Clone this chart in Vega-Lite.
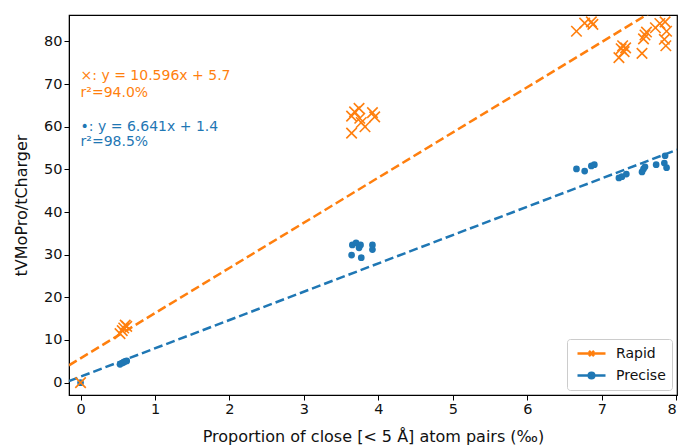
{
  "$schema": "https://vega.github.io/schema/vega-lite/v6.json",
  "autosize": {"type": "none"},
  "width": 608,
  "height": 380,
  "padding": {"left": 69, "top": 15, "right": 3, "bottom": 51},
  "config": {
    "font": "DejaVu Sans",
    "view": {"stroke": "#000", "strokeWidth": 1.2},
    "axis": {
      "grid": false,
      "domainColor": "#000",
      "tickColor": "#000",
      "tickSize": 5,
      "labelFontSize": 14.5,
      "labelColor": "#111",
      "titleFontSize": 16,
      "titleFontWeight": "normal",
      "titleColor": "#111"
    }
  },
  "datasets": {
    "pts": [
      {"series": "Rapid", "x": 0, "y": 0},
      {"series": "Rapid", "x": 0.53, "y": 11.5},
      {"series": "Rapid", "x": 0.56, "y": 12.2},
      {"series": "Rapid", "x": 0.58, "y": 12.8},
      {"series": "Rapid", "x": 0.6, "y": 13.5},
      {"series": "Rapid", "x": 0.62, "y": 13.2},
      {"series": "Rapid", "x": 3.64, "y": 58.5},
      {"series": "Rapid", "x": 3.64, "y": 62.5},
      {"series": "Rapid", "x": 3.68, "y": 63.5},
      {"series": "Rapid", "x": 3.74, "y": 64.3},
      {"series": "Rapid", "x": 3.77, "y": 61.0},
      {"series": "Rapid", "x": 3.75, "y": 62.0},
      {"series": "Rapid", "x": 3.82, "y": 60.0},
      {"series": "Rapid", "x": 3.92, "y": 63.3},
      {"series": "Rapid", "x": 3.95, "y": 62.3},
      {"series": "Rapid", "x": 6.66, "y": 82.4},
      {"series": "Rapid", "x": 6.77, "y": 84.3},
      {"series": "Rapid", "x": 6.86, "y": 84.6},
      {"series": "Rapid", "x": 6.88, "y": 84.0},
      {"series": "Rapid", "x": 7.23, "y": 76.2},
      {"series": "Rapid", "x": 7.26, "y": 78.3},
      {"series": "Rapid", "x": 7.3, "y": 77.6},
      {"series": "Rapid", "x": 7.28, "y": 79.0},
      {"series": "Rapid", "x": 7.32, "y": 78.5},
      {"series": "Rapid", "x": 7.54, "y": 77.2},
      {"series": "Rapid", "x": 7.56, "y": 80.6},
      {"series": "Rapid", "x": 7.58, "y": 81.5},
      {"series": "Rapid", "x": 7.6, "y": 82.2},
      {"series": "Rapid", "x": 7.72, "y": 83.2},
      {"series": "Rapid", "x": 7.78, "y": 84.2},
      {"series": "Rapid", "x": 7.85, "y": 84.6},
      {"series": "Rapid", "x": 7.87, "y": 82.4},
      {"series": "Rapid", "x": 7.84, "y": 80.5},
      {"series": "Rapid", "x": 7.86, "y": 79.0},
      {"series": "Precise", "x": 0, "y": 0},
      {"series": "Precise", "x": 0.53, "y": 4.3},
      {"series": "Precise", "x": 0.56, "y": 4.6},
      {"series": "Precise", "x": 0.58, "y": 4.8},
      {"series": "Precise", "x": 0.6, "y": 5.0},
      {"series": "Precise", "x": 0.62, "y": 5.1},
      {"series": "Precise", "x": 3.65, "y": 32.3},
      {"series": "Precise", "x": 3.7, "y": 32.8},
      {"series": "Precise", "x": 3.76, "y": 32.3},
      {"series": "Precise", "x": 3.74, "y": 31.6},
      {"series": "Precise", "x": 3.92, "y": 32.3},
      {"series": "Precise", "x": 3.92, "y": 31.2},
      {"series": "Precise", "x": 3.64, "y": 29.9},
      {"series": "Precise", "x": 3.77, "y": 29.3},
      {"series": "Precise", "x": 6.66, "y": 50.1},
      {"series": "Precise", "x": 6.77, "y": 49.6},
      {"series": "Precise", "x": 6.86, "y": 50.8},
      {"series": "Precise", "x": 6.9, "y": 51.1},
      {"series": "Precise", "x": 7.23, "y": 48.0},
      {"series": "Precise", "x": 7.27, "y": 48.3},
      {"series": "Precise", "x": 7.33, "y": 48.9},
      {"series": "Precise", "x": 7.54, "y": 49.4},
      {"series": "Precise", "x": 7.56, "y": 50.1},
      {"series": "Precise", "x": 7.58, "y": 50.6},
      {"series": "Precise", "x": 7.73, "y": 51.1},
      {"series": "Precise", "x": 7.84, "y": 51.5},
      {"series": "Precise", "x": 7.87, "y": 50.4},
      {"series": "Precise", "x": 7.85, "y": 53.2}
    ],
    "fits": [
      {"series": "Rapid", "x": -0.155, "y": 4.06},
      {"series": "Rapid", "x": 8.01, "y": 90.57},
      {"series": "Precise", "x": -0.155, "y": 0.37},
      {"series": "Precise", "x": 8.01, "y": 54.6}
    ],
    "notes": [
      {"series": "Rapid", "x": 0.0, "y": 72.0, "text": "×: y = 10.596x + 5.7"},
      {"series": "Rapid", "x": 0.0, "y": 68.0, "text": "r²=94.0%"},
      {"series": "Precise", "x": 0.0, "y": 60.0, "text": "•: y = 6.641x + 1.4"},
      {"series": "Precise", "x": 0.0, "y": 56.4, "text": "r²=98.5%"}
    ]
  },
  "encoding": {
    "x": {
      "field": "x", "type": "quantitative",
      "scale": {"domain": [-0.155, 8.01], "nice": false, "zero": false},
      "axis": {"values": [0, 1, 2, 3, 4, 5, 6, 7, 8], "title": "Proportion of close [< 5 Å] atom pairs (‰)", "titlePadding": 13}
    },
    "y": {
      "field": "y", "type": "quantitative",
      "scale": {"domain": [-2.9, 86.2], "nice": false, "zero": false},
      "axis": {"values": [0, 10, 20, 30, 40, 50, 60, 70, 80], "title": "tVMoPro/tCharger", "titlePadding": 14}
    },
    "color": {
      "field": "series", "type": "nominal",
      "scale": {"domain": ["Rapid", "Precise"], "range": ["#ff7f0e", "#1f77b4"]},
      "legend": {
        "title": null,
        "orient": "bottom-right",
        "offset": 5,
        "labelFontSize": 14,
        "labelColor": "#111",
        "symbolSize": 196,
        "symbolStrokeWidth": 2.5,
        "symbolOffset": 10,
        "rowPadding": 5,
        "padding": 6,
        "strokeColor": "#cccccc",
        "fillColor": "rgba(255,255,255,0.85)",
        "cornerRadius": 3,
        "labelOffset": 16,
        "encode": {
          "symbols": {
            "update": {
              "shape": {"signal": "datum.value === 'Rapid' ? 'M-2,0L2,0M-0.36,-0.36L0.36,0.36M-0.36,0.36L0.36,-0.36' : 'M-2,0L2,0M-0.4,0A0.4,0.4 0 1,0 0.4,0A0.4,0.4 0 1,0 -0.4,0Z'"},
              "fill": {"signal": "datum.value === 'Rapid' ? 'transparent' : '#1f77b4'"},
              "strokeDash": {"value": []}
            }
          }
        }
      }
    }
  },
  "layer": [
    {
      "data": {"name": "fits"},
      "mark": {"type": "line", "strokeDash": [9, 4], "strokeWidth": 2.5, "clip": true}
    },
    {
      "data": {"name": "pts"},
      "transform": [{"filter": "datum.series === 'Precise'"}],
      "mark": {"type": "circle", "size": 45, "opacity": 1}
    },
    {
      "data": {"name": "pts"},
      "transform": [{"filter": "datum.series === 'Rapid'"}],
      "mark": {"type": "point", "shape": "M-1,-1L1,1M-1,1L1,-1", "size": 110, "filled": false, "strokeWidth": 1.6, "opacity": 1}
    },
    {
      "data": {"name": "notes"},
      "mark": {"type": "text", "align": "left", "baseline": "middle", "fontSize": 14},
      "encoding": {"text": {"field": "text", "type": "nominal"}}
    }
  ]
}
